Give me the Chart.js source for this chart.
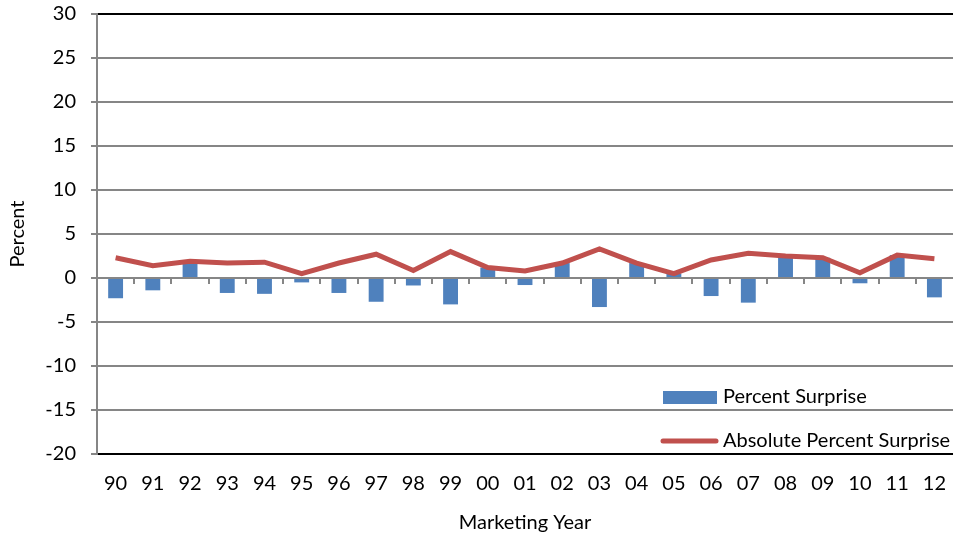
<!DOCTYPE html>
<html>
<head>
<meta charset="utf-8">
<script src="https://cdn.jsdelivr.net/npm/chart.js@4/dist/chart.umd.min.js"></script>
<style>
  html, body { margin: 0; padding: 0; background: #fff; overflow: hidden; }
  #wrap { width: 964px; height: 539px; }
</style>
</head>
<body>
<div id="wrap"><canvas id="surpriseChart"></canvas></div>
<script>
// Datos
var years = ['90', '91', '92', '93', '94', '95', '96', '97', '98', '99', '00', '01',
             '02', '03', '04', '05', '06', '07', '08', '09', '10', '11', '12'];
var percentSurprise = [-2.3, -1.4, 1.9, -1.7, -1.8, -0.5, -1.7, -2.7, -0.85, -3.0, 1.2, -0.8,
                       1.7, -3.3, 1.7, 0.5, -2.05, -2.8, 2.5, 2.3, -0.6, 2.6, -2.2];
var absSurprise = [2.3, 1.4, 1.9, 1.7, 1.8, 0.5, 1.7, 2.7, 0.85, 3.0, 1.2, 0.8,
                   1.7, 3.3, 1.7, 0.5, 2.05, 2.8, 2.5, 2.3, 0.6, 2.6, 2.2];
var yMin = -20, yMax = 30, yStep = 5;

var FONT = 'Lato, "Liberation Sans", sans-serif';
var GRAY = '#868686';

// marcas del eje x sobre la línea cero
var zeroTicks = {
    id: 'zeroTicks',
    beforeDatasetsDraw: function (chart) {
        var ctx = chart.ctx, xs = chart.scales.x, ys = chart.scales.y;
        var y0 = ys.getPixelForValue(0);
        var step = xs.width / years.length;
        ctx.save();
        ctx.strokeStyle = GRAY;
        ctx.lineWidth = 2;
        for (var i = 1; i < years.length; i++) {
            var x = Math.round(xs.left + i * step);
            ctx.beginPath();
            ctx.moveTo(x, y0);
            ctx.lineTo(x, y0 + 6);
            ctx.stroke();
        }
        ctx.restore();
    }
};

// bordes negros arriba y abajo + leyenda dentro del área
var innerLegend = {
    id: 'innerLegend',
    afterDraw: function (chart) {
        var ctx = chart.ctx;
        var ca = chart.chartArea;
        var ds = chart.data.datasets;
        ctx.save();
        ctx.strokeStyle = '#000';
        ctx.lineWidth = 2;
        ctx.beginPath();
        ctx.moveTo(ca.left + 1, ca.top);
        ctx.lineTo(ca.right, ca.top);
        ctx.moveTo(ca.left + 1, ca.bottom);
        ctx.lineTo(ca.right, ca.bottom);
        ctx.stroke();

        ctx.font = '20px ' + FONT;
        ctx.textBaseline = 'middle';
        // barras
        ctx.fillStyle = ds[1].backgroundColor;
        ctx.fillRect(663, 391, 54, 13);
        ctx.fillStyle = '#000';
        ctx.fillText(ds[1].label, 723, 397);
        // línea
        ctx.strokeStyle = ds[0].borderColor;
        ctx.lineWidth = 5;
        ctx.lineCap = 'round';
        ctx.beginPath();
        ctx.moveTo(663, 441);
        ctx.lineTo(716, 441);
        ctx.stroke();
        ctx.fillText(ds[0].label, 723, 441);
        ctx.restore();
    }
};

var ctx = document.getElementById('surpriseChart').getContext('2d');
var chart = new Chart(ctx, {
    type: 'bar',
    data: {
        labels: years,
        datasets: [{
            type: 'line',
            label: 'Absolute Percent Surprise',
            data: absSurprise,
            borderColor: '#c0504d',
            backgroundColor: '#c0504d',
            borderWidth: 5,
            pointRadius: 0,
            tension: 0,
            order: 0
        }, {
            type: 'bar',
            label: 'Percent Surprise',
            data: percentSurprise,
            backgroundColor: '#4f81bd',
            categoryPercentage: 1,
            barPercentage: 0.4,
            order: 1
        }]
    },
    options: {
        responsive: true,
        maintainAspectRatio: false,
        animation: false,
        layout: { padding: { top: 14, left: 0, right: 0, bottom: 0 } },
        plugins: {
            legend: { display: false },
            tooltip: { enabled: false }
        },
        scales: {
            x: {
                grid: { display: false, drawTicks: false },
                border: { display: false },
                ticks: { color: '#000', font: { family: FONT, size: 20 }, padding: 18, maxRotation: 0 },
                title: { display: true, text: 'Marketing Year', color: '#000',
                         font: { family: FONT, size: 20 }, padding: { top: 0, bottom: 4 } },
                afterFit: function (s) { s.height = 85; }
            },
            y: {
                min: yMin,
                max: yMax,
                ticks: { stepSize: yStep, color: '#000', font: { family: FONT, size: 20 }, padding: 15 },
                grid: {
                    color: GRAY,
                    tickColor: GRAY,
                    lineWidth: 2,
                    tickLength: 6
                },
                border: { color: GRAY, width: 2 },
                title: { display: true, text: 'Percent', color: '#000',
                         font: { family: FONT, size: 20 }, padding: { top: 6, bottom: 0 } },
                afterFit: function (s) {
                    s.width = 97;
                    s.paddingTop = 0;
                    s.paddingBottom = 0;
                }
            }
        }
    },
    plugins: [zeroTicks, innerLegend]
});
</script>
</body>
</html>
